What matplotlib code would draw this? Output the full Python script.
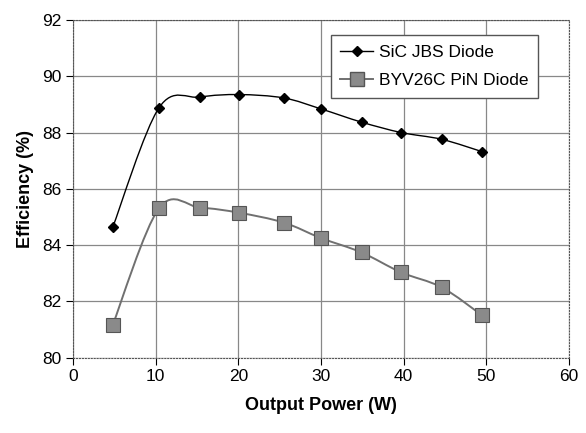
import numpy as np
import matplotlib
matplotlib.use("Agg")
import matplotlib.pyplot as plt
from matplotlib.path import Path
from matplotlib.patches import PathPatch
from matplotlib.lines import Line2D

plt.rcParams['font.family'] = ['Liberation Sans', 'DejaVu Sans']

power = [4.8, 10.4, 15.4, 20.1, 25.5, 30.0, 34.9, 39.7, 44.6, 49.5]
sic_eff = [84.63, 88.88, 89.26, 89.35, 89.23, 88.84, 88.37, 88.0, 87.76, 87.32]
pin_eff = [81.16, 85.31, 85.33, 85.15, 84.80, 84.25, 83.74, 83.03, 82.50, 81.50]


def smooth_path(xs, ys):
    # Excel-style smoothed line: cubic bezier with catmull-rom control points
    x = np.asarray(xs, float)
    y = np.asarray(ys, float)
    n = len(x)
    verts = [(x[0], y[0])]
    codes = [Path.MOVETO]
    for i in range(n - 1):
        p0 = np.array([x[max(i - 1, 0)], y[max(i - 1, 0)]])
        p1 = np.array([x[i], y[i]])
        p2 = np.array([x[i + 1], y[i + 1]])
        p3 = np.array([x[min(i + 2, n - 1)], y[min(i + 2, n - 1)]])
        c1 = p1 + (p2 - p0) / 6.0
        c2 = p2 - (p3 - p1) / 6.0
        verts += [tuple(c1), tuple(c2), tuple(p2)]
        codes += [Path.CURVE4] * 3
    return Path(verts, codes)


fig = plt.figure(figsize=(5.86, 4.33), dpi=100)
ax = fig.add_axes([0.1246, 0.174, 0.8464, 0.7798])

ax.add_patch(PathPatch(smooth_path(power, sic_eff), fill=False, color='black', lw=1.0))
ax.add_patch(PathPatch(smooth_path(power, pin_eff), fill=False, color='#707070', lw=1.4))
ax.plot(power, sic_eff, ls='none', marker='D', ms=5.5, color='black')
ax.plot(power, pin_eff, ls='none', marker='s', ms=10, mfc='#8a8a8a', mec='#555555', mew=0.8)

ax.set_xlim(0, 60)
ax.set_ylim(80, 92)
ax.set_xticks(range(0, 61, 10))
ax.set_yticks(range(80, 93, 2))
ax.grid(True, color='#888888', lw=0.9)
ax.set_axisbelow(True)
for s in ax.spines.values():
    s.set_linestyle(':')
    s.set_color('#555555')
ax.tick_params(labelsize=12.5, length=5, direction='out', color='black')
ax.set_xlabel('Output Power (W)', fontsize=13, fontweight='bold', labelpad=9)
ax.set_ylabel('Efficiency (%)', fontsize=13, fontweight='bold', labelpad=6)

handles = [
    Line2D([], [], color='black', lw=1.0, marker='D', ms=5.5),
    Line2D([], [], color='#707070', lw=1.4, marker='s', ms=10, mfc='#8a8a8a', mec='#555555'),
]
ax.legend(handles, ['SiC JBS Diode', 'BYV26C PiN Diode'], loc='upper left',
          bbox_to_anchor=(0.52, 0.955), fancybox=False, framealpha=1, fontsize=12.5,
          edgecolor='#555555', handlelength=1.9, handletextpad=0.3, borderpad=0.55,
          borderaxespad=0.0, labelspacing=0.75)

fig.savefig('out.png', dpi=100)
